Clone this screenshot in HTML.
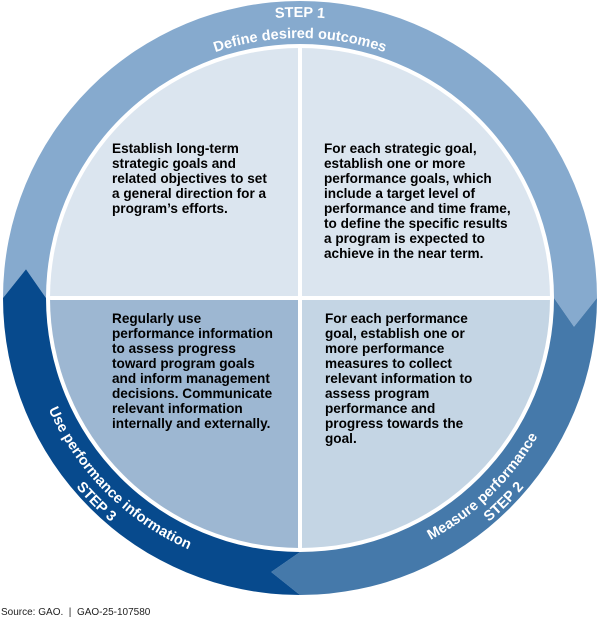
<!DOCTYPE html>
<html><head><meta charset="utf-8"><style>
html,body{margin:0;padding:0;background:#fff;width:600px;height:619px;overflow:hidden}
svg{display:block}
.q{font-family:"Liberation Sans",Arial,sans-serif;font-weight:bold;font-size:13.6px;fill:#000}
.r{font-family:"Liberation Sans",Arial,sans-serif;font-weight:bold;font-size:14.5px;fill:#fff}
</style></head><body>
<svg width="600" height="619" viewBox="0 0 600 619" xmlns="http://www.w3.org/2000/svg">
<defs>
<clipPath id="c"><circle cx="300" cy="298" r="250"/></clipPath>
<path id="p1a" d="M19,298 A281,281 0 0 1 581,298"/>
<path id="p1b" d="M40,298 A260,260 0 0 1 560,298"/>
<path id="p2a" d="M300,573 A275,275 0 0 0 575,298"/>
<path id="p2b" d="M300,591 A293,293 0 0 0 593,298"/>
<path id="p3a" d="M25,298 A275,275 0 0 0 300,573"/>
<path id="p3b" d="M7,298 A293,293 0 0 0 300,591"/>
</defs>
<path fill="#86aace" d="M3,298 A297,297 0 0 1 300,1 A297,297 0 0 1 597,298 L574,326.8 L554,298 A254,254 0 0 0 300,44 A254,254 0 0 0 46,298 L26,269.2 Z"/>
<path fill="#4579aa" d="M597,298 A297,297 0 0 1 300,595 L271.2,572 L300,552 A254,254 0 0 0 554,298 L574,326.8 Z"/>
<path fill="#074a8d" d="M300,595 A297,297 0 0 1 3,298 L26,269.2 L46,298 A254,254 0 0 0 300,552 L271.2,572 Z"/>
<g clip-path="url(#c)">
<rect x="40" y="40" width="260" height="258" fill="#dbe5ef"/>
<rect x="300" y="40" width="260" height="258" fill="#dbe5ef"/>
<rect x="40" y="298" width="260" height="260" fill="#9db7d2"/>
<rect x="300" y="298" width="260" height="260" fill="#c4d5e4"/>
<rect x="298" y="40" width="4" height="520" fill="#fff"/>
<rect x="40" y="296" width="520" height="4" fill="#fff"/>
</g>
<text class="r"><textPath href="#p1a" startOffset="50%" text-anchor="middle">STEP 1</textPath></text>
<text class="r"><textPath href="#p1b" startOffset="50%" text-anchor="middle">Define desired outcomes</textPath></text>
<text class="r"><textPath href="#p2a" startOffset="49%" text-anchor="middle">Measure performance</textPath></text>
<text class="r"><textPath href="#p2b" startOffset="50%" text-anchor="middle">STEP 2</textPath></text>
<text class="r"><textPath href="#p3a" startOffset="50%" text-anchor="middle">Use performance information</textPath></text>
<text class="r"><textPath href="#p3b" startOffset="50%" text-anchor="middle">STEP 3</textPath></text>
<g class="q">
<text x="112" y="153">Establish long-term</text>
<text x="112" y="168">strategic goals and</text>
<text x="112" y="183">related objectives to set</text>
<text x="112" y="198">a general direction for a</text>
<text x="112" y="213">program’s efforts.</text>
<text x="324" y="153">For each strategic goal,</text>
<text x="324" y="168">establish one or more</text>
<text x="324" y="183">performance goals, which</text>
<text x="324" y="198">include a target level of</text>
<text x="324" y="213">performance and time frame,</text>
<text x="324" y="228">to define the specific results</text>
<text x="324" y="243">a program is expected to</text>
<text x="324" y="258">achieve in the near term.</text>
<text x="112" y="323">Regularly use</text>
<text x="112" y="338">performance information</text>
<text x="112" y="353">to assess progress</text>
<text x="112" y="368">toward program goals</text>
<text x="112" y="383">and inform management</text>
<text x="112" y="398">decisions. Communicate</text>
<text x="112" y="413">relevant information</text>
<text x="112" y="428">internally and externally.</text>
<text x="325" y="323">For each performance</text>
<text x="325" y="338">goal, establish one or</text>
<text x="325" y="353">more performance</text>
<text x="325" y="368">measures to collect</text>
<text x="325" y="383">relevant information to</text>
<text x="325" y="398">assess program</text>
<text x="325" y="413">performance and</text>
<text x="325" y="428">progress towards the</text>
<text x="325" y="443">goal.</text>
</g>
<text x="1" y="615" font-family="Liberation Sans,Arial,sans-serif" font-size="10" fill="#222" xml:space="preserve">Source: GAO.  |  GAO-25-107580</text>
</svg>
</body></html>
